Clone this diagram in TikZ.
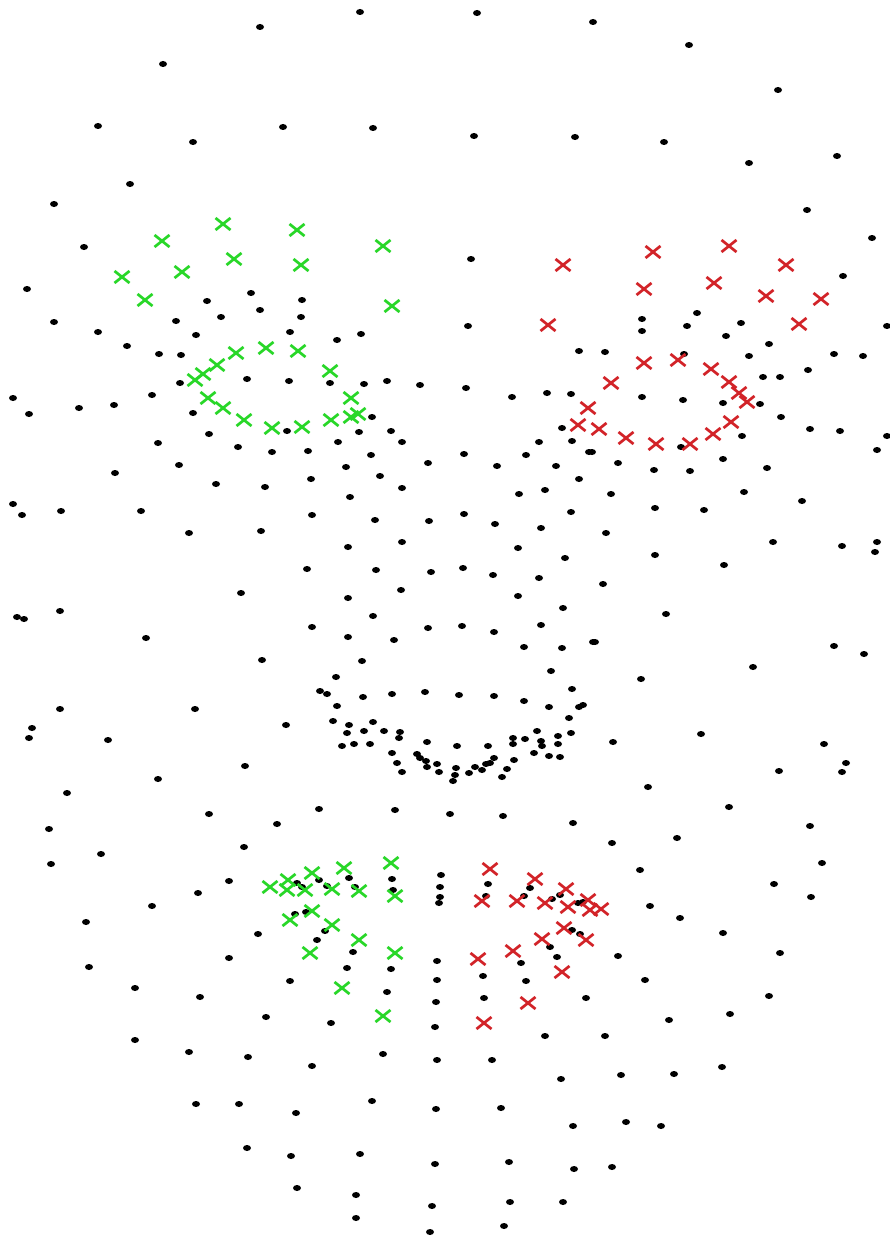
\documentclass[tikz,border=0pt]{standalone}
\definecolor{gcross}{RGB}{40,215,40}
\definecolor{rcross}{RGB}{210,35,40}
\tikzset{
  blackdot/.style={fill=black},
  gmark/.style={draw=gcross,line width=2.7pt},
  rmark/.style={draw=rcross,line width=2.7pt}
}
\begin{document}
\begin{tikzpicture}[x=1pt,y=-1pt]
\useasboundingbox (0,0) rectangle (890,1236);
\fill[white] (0,0) rectangle (890,1236);
% black landmarks
\foreach \px/\py in {
360/12,477/13,593/22,260/27,689/45,163/64,778/90,98/126,283/127,373/128,474/136,575/137,193/142,664/142,837/156,749/163,130/184,54/204,807/210,872/238,84/247,471/259,843/276,27/289,
54/322,98/332,127/346,159/354,181/355,176/321,196/335,207/301,221/317,251/293,260/310,290/332,180/383,247/379,289/381,13/398,29/414,79/408,114/405,152/395,193/413,
302/300,301/317,337/340,361/334,468/326,579/351,330/383,364/384,387/381,420/385,466/388,512/397,547/393,571/394,372/417,
642/319,642/331,687/326,697/313,741/323,726/336,769/344,887/326,605/352,684/354,749/356,834/354,863/356,808/370,763/377,780/377,642/397,683/400,723/403,760/404,781/417,
810/429,840/431,887/436,877/450,742/436,681/447,592/452,618/463,654/470,690/471,723/459,767/468,611/494,655/508,704/510,744/492,802/501,606/533,655/555,724/565,773/542,842/546,877/542,875/552,603/584,666/614,595/642,641/679,753/667,834/646,864/654,613/742,701/734,824/744,846/763,842/772,779/771,648/787,729/807,810/826,
359/432,391/431,338/442,402/442,308/451,371/455,428/463,464/454,497/466,526/455,539/442,572/441,562/428,589/452,556/466,346/467,380/476,311/479,402/488,350/497,519/494,545/490,579/479,312/515,375/520,429/521,464/514,495/524,541/528,571/512,348/547,402/542,518/548,565/558,307/569,376/570,431/572,463/568,493/575,539/578,348/598,401/590,518/596,563/608,312/627,373/616,428/628,462/626,494/632,541/625,348/637,394/640,524/647,562/648,593/642,362/661,551/671,336/677,
320/691,327/694,363/697,392/694,425/692,459/695,494/696,524/701,572/689,549/707,579/707,583/705,337/706,333/721,349/725,373/722,347/733,364/731,384/731,400/732,399/738,342/746,354/744,370/744,427/742,457/746,488/746,513/738,513/744,525/739,537/731,541/741,542/746,558/736,558/744,571/733,569/718,534/753,549/756,560/757,392/753,397/763,402/772,417/754,420/758,426/761,427/767,437/764,439/772,456/768,455/775,453/781,469/773,475/767,482/770,486/764,490/763,494/758,507/769,502/777,514/760,319/809,395/810,450/814,503/816,573/823,
209/434,158/443,238/447,272/452,287/431,179/465,115/473,216/484,265/487,13/504,22/515,61/511,141/511,189/533,261/531,241/593,60/611,17/617,24/619,146/638,262/660,60/709,195/709,286/725,32/728,29/738,108/740,245/766,158/779,67/793,209/814,277/824,49/829,
101/854,51/864,244/847,229/881,198/893,152/906,86/922,295/914,258/934,229/958,89/967,135/988,200/997,290/981,266/1017,135/1040,189/1052,248/1057,196/1104,239/1104,296/1113,247/1148,291/1156,297/1188,
297/883,302/887,319/880,327/886,349/878,355/887,392/879,393/890,441/875,440/887,440/897,439/903,488/884,486/896,530/888,524/896,552/899,560/895,578/903,583/902,306/912,325/931,317/940,353/952,347/968,391/969,387/992,437/961,437/980,436/1002,435/1027,437/1060,483/976,484/998,492/1060,521/963,526/981,550/947,557/957,572/930,580/934,586/998,545/1036,331/1023,312/1066,383/1054,372/1101,436/1109,501/1108,561/1079,573/1126,360/1154,356/1195,356/1218,435/1164,432/1206,430/1232,509/1162,510/1202,504/1226,563/1202,574/1169,
612/843,677/838,640/870,822/863,774/884,811/897,650/906,680/918,723/933,780/953,618/956,645/980,769/996,730/1014,669/1020,605/1036,621/1075,674/1074,722/1067,626/1122,661/1126,612/1167}
  \fill[blackdot] (\px,\py) ellipse (4pt and 3pt);
% green crosses (left brow, eye, mouth)
\foreach \px/\py in {
223/224,162/241,297/230,234/259,182/272,122/277,145/300,301/265,383/246,392/306,
236/353,266/348,298/351,330/371,217/365,203/374,195/380,208/398,223/408,244/420,272/428,302/427,331/420,351/417,358/414,351/398,
270/887,288/880,312/873,344/868,391/863,287/890,305/890,332/889,359/891,395/896,290/920,312/911,332/925,359/940,310/953,395/953,342/988,383/1016}
  \draw[gmark,shift={(\px,\py)}] (-7.5,-6) -- (7.5,6) (-7.5,6) -- (7.5,-6);
% red crosses (right brow, eye, mouth)
\foreach \px/\py in {
563/265,653/252,729/246,786/265,548/325,644/289,714/283,766/296,821/299,799/324,
644/363,678/360,711/369,729/382,739/393,747/402,611/383,588/408,578/425,599/429,626/438,656/444,690/444,713/434,731/422,
490/869,535/879,566/889,482/901,517/901,545/903,568/907,588/900,590/910,601/909,564/928,542/939,513/951,478/959,586/940,562/972,528/1003,484/1023}
  \draw[rmark,shift={(\px,\py)}] (-7.5,-6) -- (7.5,6) (-7.5,6) -- (7.5,-6);
\end{tikzpicture}
\end{document}
